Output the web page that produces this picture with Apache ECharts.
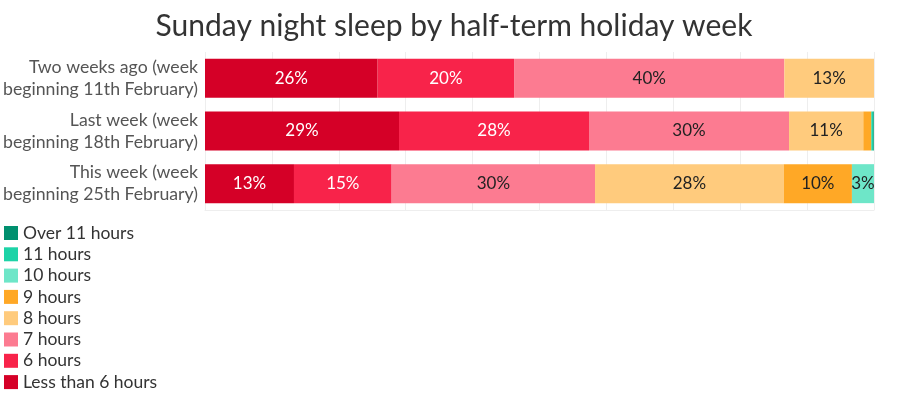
<!DOCTYPE html>
<html><head><meta charset="utf-8">
<script src="https://cdn.jsdelivr.net/npm/echarts@6/dist/echarts.min.js"></script>
<style>html,body{margin:0;padding:0;background:#fff}#c{width:908px;height:396px}</style>
</head><body><div id="c"></div>
<script>
const categories = ["Two weeks ago (week\nbeginning 11th February)", "Last week (week\nbeginning 18th February)", "This week (week\nbeginning 25th February)"];
const seriesNames = ["Less than 6 hours", "6 hours", "7 hours", "8 hours", "9 hours", "10 hours", "11 hours", "Over 11 hours"];
const lessThan6 = [25.8, 29.0, 13.3];
const hours6 = [20.4, 28.4, 14.6];
const hours7 = [40.4, 29.9, 30.4];
const hours8 = [13.4, 11.1, 28.2];
const hours9 = [0, 1.2, 10.2];
const hours10 = [0, 0, 3.3];
const hours11 = [0, 0.3, 0];
const over11 = [0, 0.1, 0];
const colors = ["#d50027", "#f8234a", "#fc7b91", "#ffcb7d", "#ffa826", "#6ee6c8", "#1dd3a7", "#00906f"];
const labelColors = ["#fff", "#fff", "#222", "#222", "#222", "#222", "#222", "#222"];
const allValues = [lessThan6, hours6, hours7, hours8, hours9, hours10, hours11, over11];

const chart = echarts.init(document.getElementById('c'), null, {renderer: 'canvas'});
const FONT = 'Lato, "Noto Sans", sans-serif';
chart.setOption({
  animation: false,
  title: {
    text: 'Sunday night sleep by half-term holiday week',
    left: 'center', top: 6,
    textStyle: {fontFamily: FONT, fontSize: 30, fontWeight: 'normal', color: '#333'}
  },
  legend: {
    orient: 'vertical', left: 0, top: 220, height: 260, padding: 4,
    itemWidth: 14, itemHeight: 14, itemGap: 3.3,
    icon: 'rect',
    data: seriesNames.slice().reverse(),
    textStyle: {fontFamily: FONT, fontSize: 17.5, color: '#333'}
  },
  grid: {left: 205, right: 34, top: 52, bottom: 186, containLabel: false},
  xAxis: {
    type: 'value', min: 0, max: 100, interval: 10,
    axisLabel: {show: false},
    axisLine: {show: true, lineStyle: {color: '#eee'}},
    axisTick: {show: false},
    splitLine: {show: true, lineStyle: {color: '#eee'}}
  },
  yAxis: {
    type: 'category', data: categories, inverse: true,
    axisLine: {show: false}, axisTick: {show: false},
    axisLabel: {fontFamily: FONT, fontSize: 17.7, color: '#555', lineHeight: 22, margin: 7, align: 'right'}
  },
  series: seriesNames.map((name, i) => ({
    name, type: 'bar', stack: 'all', barWidth: '74%',
    itemStyle: {color: colors[i]},
    label: {
      show: true, position: 'inside', fontFamily: FONT, fontSize: 17, color: labelColors[i],
      formatter: p => p.value >= 2 ? Math.round(p.value) + '%' : ''
    },
    data: allValues[i]
  }))
});
</script></body></html>
